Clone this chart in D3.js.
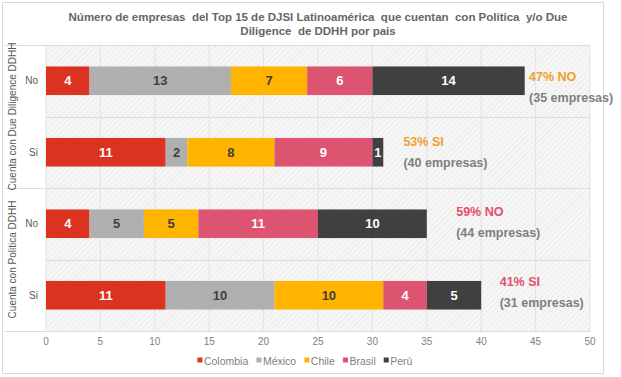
<!DOCTYPE html>
<html>
<head>
<meta charset="utf-8">
<script src="https://cdn.jsdelivr.net/npm/d3@7"></script>
<style>
  body { margin: 0; background: #fff; font-family: Arial, "Liberation Sans", sans-serif; }
</style>
</head>
<body>
<div id="chart"></div>
<script>
// data
const countries = ["Colombia", "México", "Chile", "Brasil", "Perú"];
const colors = ["#dc3320", "#afafaf", "#ffb400", "#dd5470", "#404040"];
const labelInk = ["#fff", "#404040", "#404040", "#fff", "#fff"];

const groups = ["Cuenta con Due Diligence DDHH", "Cuenta con Politica DDHH"];
const rowGroup = [0, 0, 1, 1];
const rowNames = ["No", "Si", "No", "Si"];
const values = [
  [4, 13, 7, 6, 14],
  [11, 2, 8, 9, 1],
  [4, 5, 5, 11, 10],
  [11, 10, 10, 4, 5]
];
const pctLabels = ["47% NO", "53% SI", "59% NO", "41% SI"];
const countLabels = ["(35 empresas)", "(40 empresas)", "(44 empresas)", "(31 empresas)"];
const labelAt = [44.4, 32.85, 37.7, 41.7];
const labelDy = [10, 4, 2, 1];
const groupColors = ["#f0a030", "#e0506a"];
const xTicks = d3.range(0, 51, 5);

const title = ["Número de empresas  del Top 15 de DJSI Latinoamérica  que cuentan  con Politica  y/o Due",
               "Diligence  de DDHH por pais"];

let dimensions = {
  width: 621,
  height: 377,
  margin: { top: 45, right: 31, bottom: 46, left: 46 }
};
dimensions.boundedWidth = dimensions.width - dimensions.margin.left - dimensions.margin.right;
dimensions.boundedHeight = dimensions.height - dimensions.margin.top - dimensions.margin.bottom;

const svg = d3.select("#chart").append("svg")
  .attr("width", dimensions.width)
  .attr("height", dimensions.height);

// hatch pattern for plot background
const pat = svg.append("defs").append("pattern")
  .attr("id", "hatch")
  .attr("width", 4).attr("height", 4)
  .attr("patternUnits", "userSpaceOnUse")
  .attr("patternTransform", "rotate(45)");
pat.append("rect").attr("width", 4).attr("height", 4).attr("fill", "#f6f6f6");
pat.append("line").attr("x1", 0).attr("y1", 0).attr("x2", 0).attr("y2", 4)
  .attr("stroke", "#e8e8e8").attr("stroke-width", 1.5);

// outer frame
svg.append("rect")
  .attr("x", 2.5).attr("y", 2.5)
  .attr("width", 601).attr("height", 371)
  .attr("fill", "#fff").attr("stroke", "#d9d9d9");

// title
svg.append("text")
  .attr("x", 318).attr("y", 21)
  .attr("text-anchor", "middle")
  .attr("fill", "#666")
  .style("font-size", "11.5px")
  .style("font-weight", "bold")
  .style("white-space", "pre")
  .selectAll("tspan").data(title).join("tspan")
  .attr("x", 318).attr("dy", (d, i) => i ? 14 : 0)
  .text(d => d);

const bounds = svg.append("g")
  .attr("transform", `translate(${dimensions.margin.left},${dimensions.margin.top})`);

const x = d3.scaleLinear().domain([0, 50]).range([0, dimensions.boundedWidth]);
const y = d3.scaleBand().domain(d3.range(values.length)).range([0, dimensions.boundedHeight])
  .paddingInner(0.6).paddingOuter(0.3);
const rowH = dimensions.boundedHeight / values.length;

bounds.append("rect")
  .attr("width", dimensions.boundedWidth)
  .attr("height", dimensions.boundedHeight)
  .attr("fill", "url(#hatch)");

// gridlines
bounds.append("g").selectAll("line").data(xTicks).join("line")
  .attr("x1", d => x(d)).attr("x2", d => x(d))
  .attr("y1", 0).attr("y2", dimensions.boundedHeight)
  .attr("stroke", "#e2e2e2").attr("stroke-width", 1);

// row separators
bounds.append("g").selectAll("line").data(d3.range(values.length + 1)).join("line")
  .attr("x1", d => d % 2 === 0 ? 5 - dimensions.margin.left : 0)
  .attr("x2", dimensions.boundedWidth)
  .attr("y1", d => Math.round(d * rowH) + 0.5)
  .attr("y2", d => Math.round(d * rowH) + 0.5)
  .attr("stroke", "#dcdcdc");

// stacked bars
const rows = bounds.selectAll(".row").data(values).join("g")
  .attr("class", "row")
  .attr("transform", (d, i) => `translate(0,${y(i)})`);

rows.each(function (vals) {
  const g = d3.select(this);
  let acc = 0;
  const segs = vals.map((v, k) => {
    const s = { k, v, x0: acc, x1: acc + v };
    acc += v;
    return s;
  });
  g.selectAll("rect").data(segs).join("rect")
    .attr("x", d => x(d.x0))
    .attr("width", d => x(d.x1) - x(d.x0))
    .attr("height", y.bandwidth())
    .attr("fill", d => colors[d.k]);
  g.selectAll("text").data(segs).join("text")
    .attr("x", d => (x(d.x0) + x(d.x1)) / 2)
    .attr("y", y.bandwidth() / 2)
    .attr("dy", "0.36em")
    .attr("text-anchor", "middle")
    .attr("fill", d => labelInk[d.k])
    .style("font-size", "13px")
    .style("font-weight", "bold")
    .text(d => d.v);
});

// annotations
const notes = bounds.selectAll(".note").data(values).join("g")
  .attr("class", "note")
  .attr("transform", (d, i) => `translate(${x(labelAt[i])},${y(i) + labelDy[i]})`);
notes.append("text")
  .attr("y", 0).attr("dy", "0.36em")
  .attr("fill", (d, i) => groupColors[rowGroup[i]])
  .style("font-size", "12.5px").style("font-weight", "bold")
  .text((d, i) => pctLabels[i]);
notes.append("text")
  .attr("y", 21).attr("dy", "0.36em")
  .attr("fill", "#7f7f7f")
  .style("font-size", "12.5px").style("font-weight", "bold")
  .text((d, i) => countLabels[i]);

// y category labels
bounds.append("g").selectAll("text").data(rowNames).join("text")
  .attr("x", -8)
  .attr("y", (d, i) => y(i) + y.bandwidth() / 2)
  .attr("dy", "0.35em")
  .attr("text-anchor", "end")
  .attr("fill", "#595959")
  .style("font-size", "10px")
  .text(d => d);

// group labels (rotated)
bounds.append("g").selectAll("text").data(groups).join("text")
  .attr("transform", (d, i) => `translate(${12 - dimensions.margin.left},${(i * 2 + 1) * rowH}) rotate(-90)`)
  .attr("dy", "0.35em")
  .attr("text-anchor", "middle")
  .attr("fill", "#595959")
  .style("font-size", "10px")
  .text(d => d);

// x axis labels
bounds.append("g").selectAll("text").data(xTicks).join("text")
  .attr("x", d => x(d))
  .attr("y", dimensions.boundedHeight + 14)
  .attr("text-anchor", "middle")
  .attr("fill", "#7f7f7f")
  .style("font-size", "10px")
  .text(d => d);

// legend
const legend = svg.append("g").attr("transform", "translate(0,364.5)");
const legItems = legend.selectAll("g").data(countries).join("g");
legItems.append("rect")
  .attr("y", -7).attr("width", 5).attr("height", 5)
  .attr("fill", (d, i) => colors[i]);
legItems.append("text")
  .attr("x", 6.5).attr("y", 0)
  .attr("fill", "#7f7f7f")
  .style("font-size", "10.5px")
  .text(d => d);
const widths = [];
legItems.each(function () { widths.push(this.getBBox().width); });
const gap = 8;
const totalW = d3.sum(widths) + gap * (widths.length - 1);
let lx = 305 - totalW / 2;
legItems.attr("transform", (d, i) => {
  const t = `translate(${lx},0)`;
  lx += widths[i] + gap;
  return t;
});
</script>
</body>
</html>
